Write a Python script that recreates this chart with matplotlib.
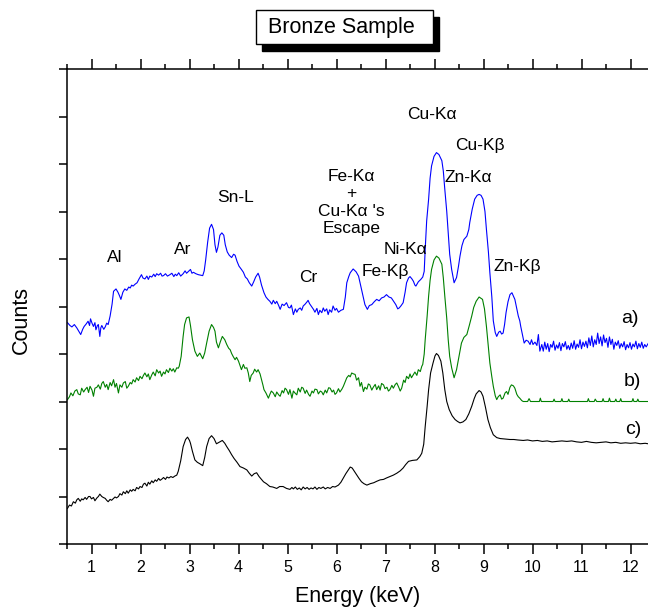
import matplotlib.pyplot as plt
from matplotlib.patches import Rectangle
from matplotlib.ticker import MultipleLocator

plt.rcParams['font.family'] = ['Liberation Sans', 'DejaVu Sans']

# spectrum a) (blue), offset on top
energy_a = [0.51, 0.56, 0.60, 0.65, 0.70, 0.74, 0.78, 0.82, 0.85, 0.89, 0.93, 0.96, 0.98, 1.01,
            1.04, 1.07, 1.09, 1.12, 1.14, 1.17, 1.19, 1.21, 1.25, 1.28, 1.31, 1.34, 1.38, 1.42,
            1.45, 1.50, 1.54, 1.57, 1.60, 1.64, 1.68, 1.72, 1.76, 1.79, 1.82, 1.85, 1.89, 1.93,
            1.97, 2.02, 2.05, 2.09, 2.13, 2.16, 2.19, 2.23, 2.27, 2.30, 2.33, 2.37, 2.41, 2.44,
            2.47, 2.51, 2.55, 2.60, 2.64, 2.68, 2.71, 2.74, 2.78, 2.82, 2.87, 2.91, 2.94, 2.98,
            3.02, 3.05, 3.08, 3.13, 3.18, 3.23, 3.27, 3.30, 3.33, 3.37, 3.41, 3.45, 3.49, 3.52,
            3.55, 3.58, 3.62, 3.66, 3.70, 3.73, 3.77, 3.81, 3.86, 3.90, 3.93, 3.97, 4.01, 4.06,
            4.10, 4.14, 4.18, 4.22, 4.27, 4.31, 4.35, 4.40, 4.43, 4.47, 4.52, 4.56, 4.60, 4.64,
            4.68, 4.71, 4.75, 4.78, 4.82, 4.85, 4.89, 4.93, 4.98, 5.02, 5.05, 5.08, 5.12, 5.16,
            5.19, 5.22, 5.26, 5.29, 5.32, 5.36, 5.40, 5.42, 5.45, 5.49, 5.53, 5.56, 5.60, 5.63,
            5.66, 5.70, 5.73, 5.76, 5.80, 5.83, 5.86, 5.90, 5.93, 5.97, 6.00, 6.04, 6.09, 6.14,
            6.18, 6.21, 6.25, 6.28, 6.34, 6.40, 6.45, 6.48, 6.51, 6.55, 6.58, 6.63, 6.67, 6.72,
            6.77, 6.82, 6.87, 6.92, 6.97, 7.02, 7.07, 7.12, 7.17, 7.21, 7.25, 7.28, 7.32, 7.36,
            7.40, 7.43, 7.47, 7.50, 7.54, 7.57, 7.60, 7.62, 7.67, 7.72, 7.76, 7.79, 7.81, 7.84,
            7.88, 7.91, 7.94, 7.99, 8.04, 8.09, 8.15, 8.18, 8.21, 8.25, 8.28, 8.31, 8.35, 8.40,
            8.45, 8.49, 8.52, 8.56, 8.60, 8.66, 8.70, 8.72, 8.77, 8.82, 8.87, 8.91, 8.95, 8.99,
            9.03, 9.06, 9.10, 9.13, 9.17, 9.20, 9.24, 9.27, 9.31, 9.34, 9.37, 9.40, 9.43, 9.46,
            9.50, 9.54, 9.58, 9.61, 9.64, 9.68, 9.71, 9.74, 9.76, 9.80, 9.83, 9.87, 9.91, 9.95,
            9.98, 10.01, 10.05, 10.09, 10.12, 10.15,
            10.19, 10.22, 10.25, 10.28, 10.31, 10.34, 10.37, 10.40, 10.43, 10.46, 10.49, 10.52,
            10.55, 10.58, 10.61, 10.64, 10.67, 10.70, 10.73, 10.76, 10.79, 10.82, 10.85, 10.88,
            10.91, 10.94, 10.97, 11.00, 11.03, 11.06, 11.09, 11.12, 11.15, 11.18, 11.21, 11.24,
            11.27, 11.30, 11.33, 11.36, 11.39, 11.42, 11.45, 11.48, 11.51, 11.54, 11.57, 11.60,
            11.63, 11.66, 11.69, 11.72, 11.75, 11.78, 11.81, 11.84, 11.87, 11.90, 11.93, 11.96,
            11.99, 12.02, 12.05, 12.08, 12.11, 12.14, 12.17, 12.20, 12.23, 12.26, 12.29, 12.32,
            12.36]
counts_a = [4.66, 4.60, 4.57, 4.62, 4.55, 4.48, 4.41, 4.52, 4.58, 4.63, 4.69, 4.60, 4.74, 4.65,
            4.58, 4.66, 4.51, 4.60, 4.62, 4.37, 4.55, 4.60, 4.52, 4.57, 4.65, 4.62, 4.80, 5.05,
            5.32, 5.37, 5.30, 5.23, 5.15, 5.30, 5.37, 5.34, 5.41, 5.39, 5.45, 5.43, 5.47, 5.50,
            5.58, 5.67, 5.60, 5.58, 5.64, 5.57, 5.64, 5.62, 5.68, 5.63, 5.69, 5.66, 5.70, 5.64,
            5.65, 5.69, 5.64, 5.67, 5.70, 5.63, 5.68, 5.65, 5.71, 5.64, 5.69, 5.75, 5.70, 5.74,
            5.78, 5.70, 5.72, 5.69, 5.67, 5.66, 5.65, 5.75, 5.98, 6.35, 6.65, 6.73, 6.62, 6.30,
            6.14, 6.25, 6.50, 6.55, 6.50, 6.30, 6.15, 6.08, 6.03, 6.10, 6.08, 5.95, 5.85, 5.78,
            5.72, 5.62, 5.58, 5.50, 5.43, 5.52, 5.62, 5.70, 5.62, 5.45, 5.29, 5.20, 5.15, 5.11,
            5.05, 5.13, 5.06, 5.11, 5.02, 4.94, 5.05, 5.02, 5.08, 4.98, 4.97, 5.03, 4.83, 4.95,
            4.88, 4.94, 4.97, 4.92, 5.01, 5.05, 5.10, 5.13, 5.06, 5.00, 4.94, 4.88, 4.96, 4.83,
            4.92, 4.87, 4.97, 4.90, 4.95, 4.83, 4.93, 4.88, 5.01, 4.92, 4.96, 4.88, 4.92, 4.94,
            5.20, 5.50, 5.63, 5.71, 5.79, 5.73, 5.64, 5.50, 5.36, 5.18, 5.04, 4.94, 5.02, 5.04,
            5.10, 5.15, 5.12, 5.18, 5.20, 5.25, 5.20, 5.18, 5.10, 5.04, 4.95, 4.97, 5.02, 5.08,
            5.30, 5.50, 5.60, 5.63, 5.58, 5.53, 5.45, 5.43, 5.52, 5.57, 5.62, 5.74, 6.20, 6.80,
            7.26, 7.70, 7.96, 8.16, 8.24, 8.20, 8.07, 7.85, 7.47, 7.00, 6.55, 6.10, 5.78, 5.50,
            5.61, 5.85, 6.06, 6.28, 6.41, 6.48, 6.62, 6.77, 7.05, 7.26, 7.34, 7.36, 7.34, 7.26,
            7.00, 6.62, 6.15, 5.71, 5.20, 4.70, 4.45, 4.37, 4.46, 4.48, 4.42, 4.44, 4.62, 4.87,
            5.10, 5.25, 5.29, 5.22, 5.15, 4.95, 4.80, 4.70, 4.58, 4.38, 4.23, 4.29, 4.27, 4.20,
            4.30, 4.20, 4.25, 4.18, 4.41, 4.06,
            4.20, 4.06, 4.25, 4.10, 4.22, 4.05, 4.20, 4.14, 4.27, 4.08, 4.19, 4.12,
            4.24, 4.07, 4.22, 4.15, 4.26, 4.10, 4.18, 4.09, 4.23, 4.12, 4.28, 4.10,
            4.21, 4.14, 4.30, 4.11, 4.25, 4.16, 4.27, 4.13, 4.34, 4.18, 4.38, 4.15,
            4.30, 4.20, 4.44, 4.22, 4.36, 4.17, 4.40, 4.24, 4.33, 4.14, 4.36, 4.20,
            4.31, 4.10, 4.25, 4.18, 4.28, 4.12, 4.22, 4.15, 4.26, 4.09, 4.20, 4.13,
            4.24, 4.10, 4.21, 4.15, 4.27, 4.11, 4.22, 4.14, 4.25, 4.12, 4.20, 4.15,
            4.22]

# spectrum b) (green)
energy_b = [0.51, 0.55, 0.58, 0.62, 0.66, 0.70, 0.73, 0.77, 0.80, 0.84, 0.87, 0.91, 0.94, 0.97,
            1.01, 1.04, 1.07, 1.11, 1.14, 1.18, 1.21, 1.24, 1.28, 1.31, 1.34, 1.38, 1.41, 1.45,
            1.48, 1.51, 1.55, 1.58, 1.62, 1.65, 1.69, 1.72, 1.75, 1.79, 1.82, 1.85, 1.89, 1.92,
            1.96, 1.99, 2.03, 2.06, 2.09, 2.13, 2.16, 2.19, 2.23, 2.26, 2.30, 2.33, 2.37, 2.40,
            2.43, 2.47, 2.50, 2.53, 2.57, 2.60, 2.64, 2.67, 2.70, 2.74, 2.77, 2.79, 2.83, 2.87,
            2.90, 2.94, 2.99, 3.02, 3.06, 3.11, 3.16, 3.21, 3.24, 3.27, 3.31, 3.35, 3.40, 3.45,
            3.49, 3.52, 3.55, 3.59, 3.63, 3.67, 3.72, 3.76, 3.80, 3.83, 3.86, 3.89, 3.93, 3.96,
            4.00, 4.03, 4.06, 4.10, 4.13, 4.17, 4.20, 4.23, 4.26, 4.30, 4.33, 4.37, 4.40, 4.44,
            4.47, 4.50, 4.52, 4.56, 4.61, 4.64, 4.67, 4.71, 4.75, 4.78, 4.82, 4.85, 4.89, 4.92,
            4.95, 4.98, 5.02, 5.05, 5.09, 5.12, 5.16, 5.19, 5.22, 5.26, 5.29, 5.32, 5.36, 5.39,
            5.43, 5.46, 5.50, 5.53, 5.56, 5.60, 5.63, 5.67, 5.70, 5.73, 5.77, 5.80, 5.84, 5.87,
            5.91, 5.94, 5.97, 6.00, 6.04, 6.07, 6.11, 6.14, 6.18, 6.21, 6.25, 6.28, 6.31, 6.35,
            6.38, 6.41, 6.45, 6.48, 6.51, 6.55, 6.58, 6.62, 6.65, 6.68, 6.72, 6.75, 6.79, 6.82,
            6.86, 6.89, 6.92, 6.96, 6.99, 7.03, 7.06, 7.09, 7.13, 7.16, 7.20, 7.23, 7.27, 7.30,
            7.33, 7.37, 7.40, 7.43, 7.47, 7.50, 7.53, 7.57, 7.60, 7.64, 7.67, 7.71, 7.74, 7.76,
            7.79, 7.81, 7.85, 7.88, 7.91, 7.94, 7.99, 8.04, 8.09, 8.15, 8.18, 8.21, 8.25, 8.28,
            8.31, 8.35, 8.40, 8.45, 8.50, 8.55, 8.60, 8.66, 8.71, 8.76, 8.80, 8.85, 8.91, 8.98,
            9.02, 9.06, 9.10, 9.13, 9.17, 9.20, 9.24, 9.27, 9.30, 9.34, 9.37, 9.40, 9.44, 9.47,
            9.50, 9.54, 9.57, 9.61, 9.64, 9.68, 9.71, 9.74, 9.78, 9.81, 9.90, 9.93, 9.96,
            10.14, 10.16, 10.18, 10.42, 10.44, 10.46, 10.58, 10.60, 10.62, 10.72, 10.74, 10.76,
            11.12, 11.14, 11.16, 11.26, 11.28, 11.31, 11.42, 11.44, 11.46, 11.55, 11.57, 11.59,
            11.68, 11.70, 11.72, 11.78, 11.80, 11.82, 12.03, 12.05, 12.07, 12.13, 12.15, 12.17,
            12.36]
counts_b = [3.04, 3.10, 3.18, 3.12, 3.22, 3.25, 3.16, 3.14, 3.28, 3.20, 3.25, 3.30, 3.19, 3.32,
            3.24, 3.11, 3.28, 3.30, 3.35, 3.26, 3.38, 3.42, 3.30, 3.36, 3.25, 3.40, 3.33, 3.46,
            3.30, 3.38, 3.18, 3.35, 3.30, 3.39, 3.42, 3.28, 3.32, 3.40, 3.37, 3.46, 3.41, 3.50,
            3.44, 3.53, 3.48, 3.55, 3.60, 3.52, 3.58, 3.46, 3.56, 3.62, 3.54, 3.67, 3.60, 3.64,
            3.53, 3.62, 3.58, 3.67, 3.61, 3.70, 3.64, 3.69, 3.62, 3.71, 3.70, 3.74, 3.95, 4.37,
            4.62, 4.76, 4.78, 4.60, 4.30, 4.06, 3.95, 4.02, 3.96, 3.90, 4.02, 4.23, 4.48, 4.62,
            4.56, 4.48, 4.25, 4.13, 4.26, 4.37, 4.30, 4.20, 4.12, 4.09, 4.01, 3.95, 3.88, 3.93,
            3.85, 3.76, 3.67, 3.78, 3.70, 3.71, 3.60, 3.42, 3.55, 3.60, 3.68, 3.62, 3.67, 3.58,
            3.46, 3.34, 3.25, 3.18, 3.07, 3.15, 3.22, 3.18, 3.10, 3.20, 3.14, 3.11, 3.23, 3.18,
            3.28, 3.25, 3.15, 3.25, 3.07, 3.22, 3.17, 3.14, 3.28, 3.20, 3.30, 3.28, 3.17, 3.24,
            3.15, 3.11, 3.22, 3.18, 3.26, 3.25, 3.16, 3.22, 3.20, 3.14, 3.24, 3.18, 3.29, 3.28,
            3.20, 3.24, 3.15, 3.18, 3.27, 3.20, 3.26, 3.32, 3.42, 3.50, 3.55, 3.52, 3.60, 3.58,
            3.57, 3.45, 3.50, 3.32, 3.40, 3.21, 3.30, 3.26, 3.37, 3.35, 3.24, 3.30, 3.36, 3.25,
            3.33, 3.24, 3.38, 3.35, 3.27, 3.30, 3.22, 3.25, 3.34, 3.28, 3.36, 3.39, 3.30, 3.22,
            3.28, 3.45, 3.40, 3.53, 3.48, 3.58, 3.50, 3.57, 3.62, 3.55, 3.67, 3.63, 3.74, 3.78,
            4.00, 4.30, 4.80, 5.22, 5.55, 5.78, 5.98, 6.06, 6.02, 5.89, 5.60, 5.22, 4.75, 4.30,
            3.95, 3.71, 3.50, 3.67, 3.95, 4.23, 4.35, 4.41, 4.60, 4.80, 4.98, 5.11, 5.20, 5.15,
            4.95, 4.58, 4.15, 3.81, 3.52, 3.32, 3.12, 3.04, 3.10, 3.14, 3.05, 3.07, 3.18, 3.21,
            3.15, 3.30, 3.35, 3.33, 3.28, 3.15, 3.10, 3.07, 3.02, 3.00, 3.00, 3.06, 3.00,
            3.00, 3.07, 3.00, 3.00, 3.05, 3.00, 3.00, 3.06, 3.00, 3.00, 3.05, 3.00,
            3.00, 3.06, 3.00, 3.00, 3.05, 3.00, 3.00, 3.06, 3.00, 3.00, 3.07, 3.00,
            3.00, 3.05, 3.00, 3.00, 3.06, 3.00, 3.00, 3.06, 3.00, 3.00, 3.05, 3.00,
            3.00]

# spectrum c) (black)
energy_c = [0.51, 0.55, 0.59, 0.63, 0.67, 0.70, 0.73, 0.77, 0.80, 0.83, 0.87, 0.90, 0.94, 0.97,
            1.00, 1.04, 1.07, 1.11, 1.14, 1.17, 1.21, 1.24, 1.28, 1.31, 1.34, 1.38, 1.41, 1.45,
            1.48, 1.51, 1.55, 1.58, 1.62, 1.65, 1.69, 1.72, 1.75, 1.79, 1.82, 1.85, 1.89, 1.92,
            1.96, 1.99, 2.03, 2.06, 2.09, 2.13, 2.16, 2.19, 2.23, 2.26, 2.30, 2.33, 2.37, 2.40,
            2.44, 2.47, 2.51, 2.54, 2.58, 2.62, 2.66, 2.70, 2.74, 2.77, 2.82, 2.87, 2.92, 2.96,
            3.00, 3.02, 3.06, 3.11, 3.16, 3.21, 3.27, 3.31, 3.35, 3.40, 3.45, 3.50, 3.55, 3.60,
            3.67, 3.72, 3.76, 3.81, 3.86, 3.91, 3.97, 4.03, 4.10, 4.17, 4.22, 4.27, 4.32, 4.37,
            4.42, 4.47, 4.51, 4.57, 4.64, 4.70, 4.78, 4.84, 4.91, 4.98, 5.05, 5.09, 5.12, 5.16,
            5.20, 5.24, 5.28, 5.32, 5.36, 5.40, 5.44, 5.48, 5.52, 5.56, 5.60, 5.64, 5.68, 5.73,
            5.77, 5.82, 5.87, 5.92, 5.97, 6.04, 6.09, 6.14, 6.19, 6.24, 6.28, 6.32, 6.37, 6.41,
            6.46, 6.51, 6.56, 6.62, 6.69, 6.76, 6.82, 6.89, 6.96, 7.02, 7.09, 7.16, 7.23, 7.30,
            7.36, 7.41, 7.47, 7.55, 7.64, 7.70, 7.74, 7.78, 7.81, 7.85, 7.88, 7.92, 7.97, 8.01,
            8.04, 8.08, 8.13, 8.17, 8.21, 8.25, 8.30, 8.36, 8.42, 8.47, 8.52, 8.58, 8.64, 8.70,
            8.76, 8.81, 8.85, 8.91, 8.95, 8.99, 9.04, 9.09, 9.14, 9.20, 9.27, 9.34, 9.44, 9.54,
            9.62, 9.70, 9.81, 9.90, 10.00, 10.10, 10.20, 10.30, 10.40, 10.50, 10.60, 10.70,
            10.80, 10.90, 11.00, 11.10, 11.20, 11.30, 11.40, 11.50, 11.60, 11.70, 11.80, 11.90,
            12.00, 12.10, 12.20, 12.30, 12.36]
counts_c = [0.75, 0.82, 0.80, 0.89, 0.86, 0.93, 0.96, 0.90, 0.95, 0.93, 0.98, 0.94, 1.00, 1.00,
            0.95, 0.98, 0.91, 0.97, 1.00, 1.05, 1.00, 0.98, 0.96, 0.92, 0.89, 0.94, 0.92, 0.96,
            0.99, 0.97, 1.00, 1.06, 1.03, 1.10, 1.06, 1.12, 1.07, 1.14, 1.11, 1.15, 1.12, 1.19,
            1.16, 1.21, 1.19, 1.26, 1.28, 1.22, 1.30, 1.26, 1.33, 1.29, 1.35, 1.32, 1.38, 1.34,
            1.37, 1.40, 1.36, 1.41, 1.39, 1.42, 1.40, 1.43, 1.45, 1.53, 1.75, 2.05, 2.20, 2.25,
            2.18, 2.12, 1.95, 1.77, 1.72, 1.69, 1.65, 1.82, 2.05, 2.22, 2.28, 2.22, 2.11, 2.14,
            2.18, 2.12, 2.05, 1.97, 1.88, 1.80, 1.72, 1.63, 1.60, 1.56, 1.49, 1.43, 1.48, 1.50,
            1.42, 1.36, 1.31, 1.27, 1.21, 1.20, 1.17, 1.21, 1.21, 1.17, 1.15, 1.19, 1.16, 1.20,
            1.15, 1.18, 1.14, 1.20, 1.16, 1.19, 1.15, 1.18, 1.16, 1.20, 1.15, 1.19, 1.17, 1.20,
            1.16, 1.19, 1.17, 1.21, 1.20, 1.24, 1.30, 1.39, 1.48, 1.56, 1.62, 1.60, 1.52, 1.46,
            1.38, 1.31, 1.27, 1.24, 1.27, 1.29, 1.32, 1.35, 1.36, 1.39, 1.42, 1.45, 1.49, 1.54,
            1.60, 1.67, 1.74, 1.76, 1.77, 1.84, 1.91, 2.10, 2.47, 2.90, 3.25, 3.60, 3.81, 3.96,
            4.01, 3.97, 3.85, 3.60, 3.25, 3.00, 2.83, 2.70, 2.62, 2.58, 2.55, 2.57, 2.62, 2.74,
            2.90, 3.06, 3.16, 3.23, 3.20, 3.11, 2.88, 2.62, 2.45, 2.30, 2.24, 2.22, 2.21, 2.20,
            2.20, 2.19, 2.18, 2.19, 2.17, 2.18, 2.16, 2.17, 2.15, 2.16, 2.17, 2.16,
            2.17, 2.15, 2.14, 2.16, 2.14, 2.13, 2.14, 2.15, 2.13, 2.14, 2.12, 2.13,
            2.12, 2.13, 2.11, 2.12, 2.11]

peak_labels = ['Al', 'Ar', 'Sn-L', 'Cr', 'Fe-K\u03b1\n+\nCu-K\u03b1 \'s\nEscape', 'Ni-K\u03b1',
               'Fe-K\u03b2', 'Cu-K\u03b1', 'Cu-K\u03b2', 'Zn-K\u03b1', 'Zn-K\u03b2']
label_x = [1.48, 2.87, 3.95, 5.42, 6.30, 7.40, 7.00, 7.95, 8.92, 8.69, 9.68]
label_y = [6.03, 6.20, 7.30, 5.61, 7.19, 6.20, 5.74, 9.05, 8.38, 7.72, 5.84]

trace_names = ['a)', 'b)', 'c)']
trace_x = [11.99, 12.04, 12.05]
trace_y = [4.74, 3.43, 2.41]

fig = plt.figure(figsize=(6.48, 6.12), dpi=100)
ax = fig.add_axes([67 / 648, 68 / 612, 581 / 648, 475 / 612])

ax.plot(energy_a, counts_a, color='#0000ff', lw=0.8)
ax.plot(energy_b, counts_b, color='#008000', lw=0.8)
ax.plot(energy_c, counts_c, color='black', lw=0.8)

for txt, x, y in zip(peak_labels, label_x, label_y):
    ax.text(x, y, txt, ha='center', va='center', fontsize=12.5, linespacing=1.2)
for txt, x, y in zip(trace_names, trace_x, trace_y):
    ax.text(x, y, txt, ha='center', va='center', fontsize=14)

ax.set_xlim(0.5, 0.5 + 581 / 49)
ax.set_ylim(0, 10)
ax.xaxis.set_major_locator(MultipleLocator(1))
ax.xaxis.set_minor_locator(MultipleLocator(0.5))
ax.set_yticks(range(11))
ax.set_yticklabels([])
ax.set_xticks(range(1, 13))
ax.tick_params(axis='x', which='major', direction='out', length=7, width=1.1,
               top=True, labeltop=False, labelsize=11.5, pad=4.5)
ax.tick_params(axis='x', which='minor', direction='out', length=3.5, width=1.1, top=True)
ax.tick_params(axis='y', which='major', direction='out', length=6, width=1.1)
ax.spines['right'].set_visible(False)
for s in ['left', 'bottom', 'top']:
    ax.spines[s].set_linewidth(1.1)

ax.set_xlabel('Energy (keV)', fontsize=15.5, labelpad=8)
fig.text(21 / 648, 1 - 320 / 612, 'Counts', rotation=90, ha='center', va='center',
         fontsize=15.5)

# title box with drop shadow
fig.add_artist(Rectangle((262 / 648, (612 - 51) / 612), 177 / 648, 34 / 612,
                         transform=fig.transFigure, facecolor='black', edgecolor='black'))
fig.add_artist(Rectangle((256 / 648, (612 - 44) / 612), 177 / 648, 34 / 612,
                         transform=fig.transFigure, facecolor='white', edgecolor='black', lw=1))
fig.text(341 / 648, 1 - 27 / 612, 'Bronze Sample', ha='center', va='center', fontsize=15.5)

fig.savefig('out.png', dpi=100)
